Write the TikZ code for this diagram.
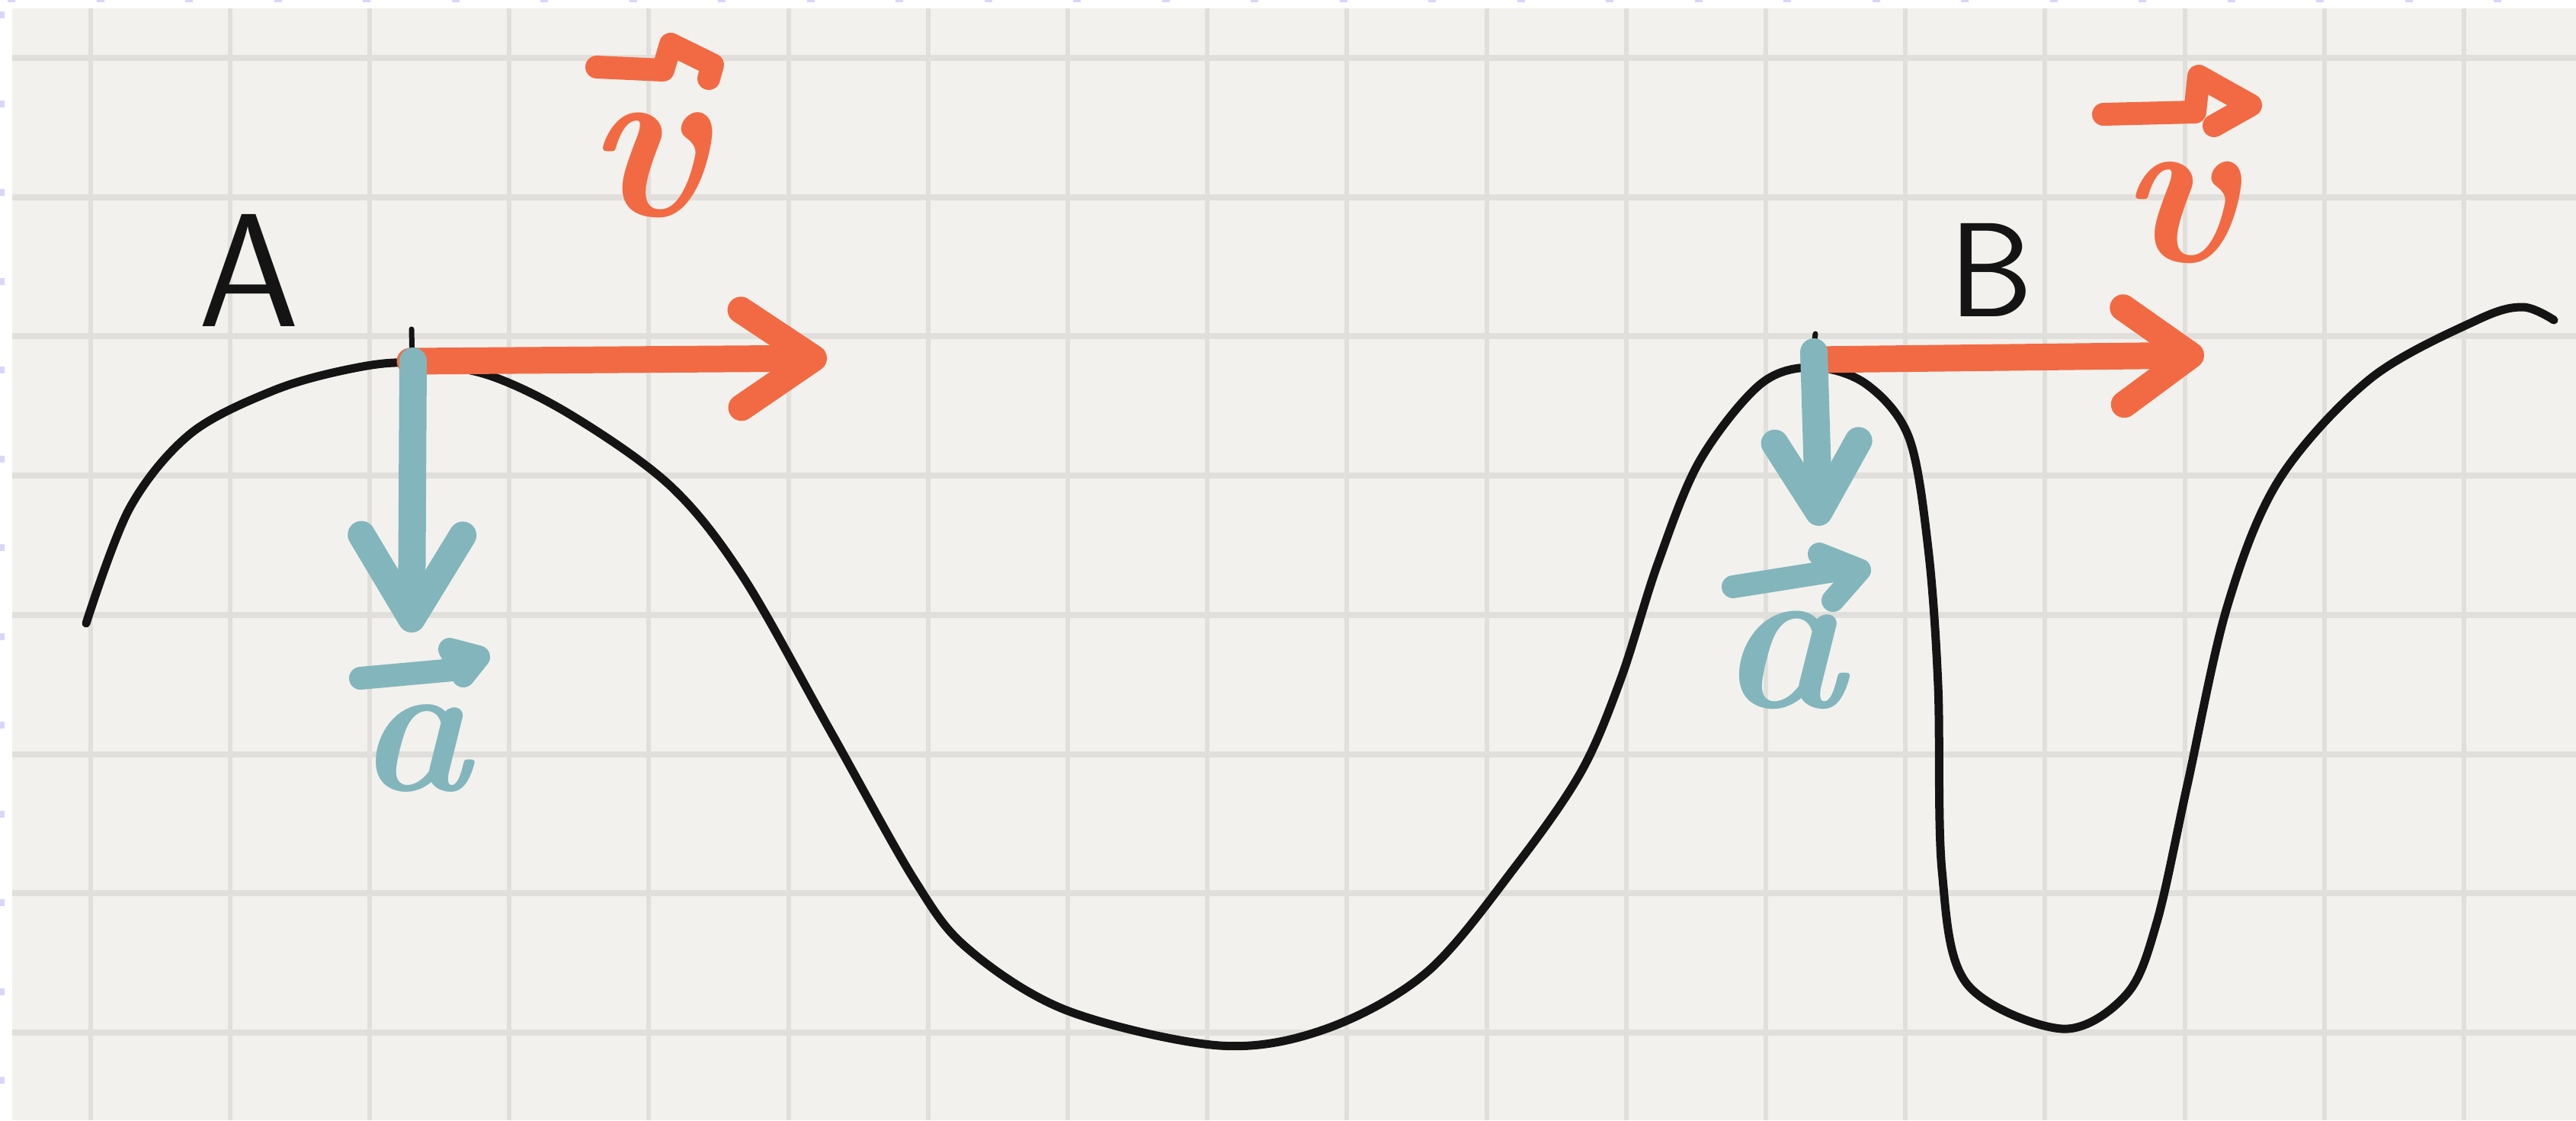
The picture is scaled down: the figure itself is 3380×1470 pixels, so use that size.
\documentclass[tikz,border=0pt]{standalone}
\usetikzlibrary{arrows.meta}

\definecolor{velorange}{HTML}{F26A43}
\definecolor{accteal}{HTML}{82B6BC}
\definecolor{paper}{HTML}{F3F1EE}
\definecolor{gridgray}{HTML}{E1DFDB}
\definecolor{marklav}{HTML}{D9D5FA}

\begin{document}
\begin{tikzpicture}[x=1pt, y=-1pt,
    track/.style={line width=11pt, line cap=round, line join=round, black!92},
    peaktick/.style={line width=7pt, line cap=round, black!92},
    velarrow/.style n args={2}{velorange, line width=35pt, line cap=round,
        -{Straight Barb[length=#1, width=#2, round]}},
    accarrow/.style n args={2}{accteal, line width=36pt, line cap=round,
        -{Straight Barb[length=#1, width=#2, round]}},
    overstroke/.style={line width=30pt, line cap=round, line join=round},
    ptlabel/.style={font=\fontsize{#1}{#1}\selectfont\sffamily, anchor=base, inner sep=0pt, black!92},
    veclabel/.style={font=\fontsize{#1}{#1}\selectfont\bfseries\itshape, anchor=base, inner sep=0pt}]
        \useasboundingbox (0,0) rectangle (3380,1470);

        % Grid paper
        \fill[white] (0,0) rectangle (3380,1470);
        \fill[paper] (16,11) rectangle (3380,1470);
        \foreach \k in {0,...,28} \fill[marklav] ({10+116.5*\k},0) rectangle ++(10,3);
        \foreach \k in {0,...,12} \fill[marklav] (0,{15+116.5*\k}) rectangle ++(6,9);
        \foreach \i in {0,...,17} \draw[gridgray, line width=6pt] ({118.6+183.2*\i},11) -- ({118.6+183.2*\i},1470);
        \foreach \j in {0,...,7} \draw[gridgray, line width=8pt] (16,{76+182.7*\j}) -- (3380,{76+182.7*\j});

        % Peaks
        \coordinate (peakA) at (538,474);
        \coordinate (peakB) at (2380,472);

        % The track
        \draw[track] plot[smooth, tension=0.55] coordinates {
            (113,818) (170,667) (250,569) (360,512) (460,484) (538,476)
            (640,492) (750,545) (880,638) (975,757) (1090,960) (1200,1155)
            (1270,1245) (1400,1326) (1600,1372) (1740,1350) (1873,1275) (1990,1135)
            (2075,1012) (2127,890) (2175,740) (2230,605) (2310,504) (2380,482)
            (2450,505) (2505,575) (2530,720) (2543,900) (2548,1142) (2580,1290)
            (2705,1350) (2790,1305) (2830,1210) (2870,1030) (2922,797) (2990,630)
            (3110,497) (3250,420) (3310,403) (3351,420)};
        \draw[peaktick] (540,432) -- (541,478);
        \draw[peaktick] (2382,438) -- (2368,535);

        % Velocity
        \coordinate (vAtip) at (1085,470);
        \coordinate (vBtip) at (2892,466);
        \draw[velarrow={95pt}{128pt}] (peakA) -- (vAtip);
        \draw[velarrow={88pt}{127pt}] (peakB) -- (vBtip);

        % Acceleration
        \coordinate (aAtip) at (540,830);
        \coordinate (aBtip) at (2387,690);
        \draw[accarrow={110pt}{133pt}] ([xshift=4pt]peakA) -- (aAtip);
        \draw[accarrow={92pt}{110pt}] ([yshift=10pt]peakB) -- (aBtip);

        % Labels
        \node[ptlabel=212] (labA) at (327,428) {A};
        \node[ptlabel=176] (labB) at (2613,415) {B};

        \node[veclabel=300, velorange] (vA) at (848,283) {v};
        \draw[overstroke, velorange] (783,88) -- (870,92) -- (880,58) -- (935,85) -- (930,103);
        \node[veclabel=290, velorange] (vB) at (2858,343) {v};
        \draw[overstroke, velorange] (2760,150) -- (2880,147) -- (2885,100) -- (2953,138) -- (2905,165);

        \node[veclabel=250, accteal] (aA) at (543,1037) {a};
        \draw[overstroke, accteal] (473,890) -- (605,878) -- (590,852) -- (628,862) -- (608,887);
        \node[veclabel=280, accteal] (aB) at (2338,928) {a};
        \draw[overstroke, accteal] (2274,770) -- (2425,746);
        \draw[overstroke, accteal] (2387,727) -- (2440,748) -- (2405,788);
    \end{tikzpicture}
\end{document}
